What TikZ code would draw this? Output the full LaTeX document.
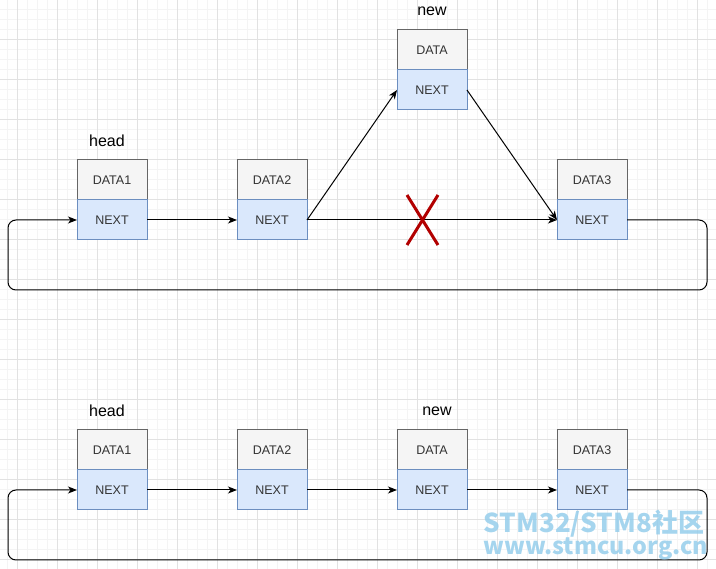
\documentclass[tikz,border=0pt]{standalone}
\usepackage{fontspec}
\setmainfont{Liberation Sans}
\newfontfamily\markfont{Noto Sans CJK SC}
\usetikzlibrary{
    arrows.meta,
    positioning
}

\definecolor{gridminor}{HTML}{F4F4F4}
\definecolor{gridmajor}{HTML}{E2E2E2}
\definecolor{datafill}{HTML}{F5F5F5}
\definecolor{datadraw}{HTML}{666666}
\definecolor{nextfill}{HTML}{DAE8FC}
\definecolor{nextdraw}{HTML}{6C8EBF}
\definecolor{celltext}{HTML}{333333}
\definecolor{crossred}{HTML}{B20000}
\definecolor{markblue}{HTML}{96CEEC}

\tikzset{
    datacell/.style={draw=datadraw, fill=datafill, text=celltext, line width=1pt,
        minimum width=70pt, minimum height=40pt, inner sep=0pt, outer sep=0pt,
        font=\fontsize{12.5}{14}\selectfont},
    nextcell/.style={datacell, draw=nextdraw, fill=nextfill},
    tag/.style={font=\fontsize{16}{19}\selectfont},
    link/.style={-{Stealth[length=9pt, width=7pt, inset=2.5pt]}, line width=1pt},
    watermark/.style={text=markblue, opacity=0.85, inner sep=0pt,
        font=\markfont\bfseries}
}

\begin{document}
\begin{tikzpicture}[x=1pt, y=-1pt]
                        \useasboundingbox (0,0) rectangle (716,569);
                        \fill[white] (0,0) rectangle (716,569);
                        % background grid
                        \foreach \x in {7,17,...,716}
                            \draw[gridminor, line width=1pt] (\x,0) -- (\x,569);
                        \foreach \y in {0,10,...,569}
                            \draw[gridminor, line width=1pt] (0,\y) -- (716,\y);
                        \foreach \x in {17,57,...,716}
                            \draw[gridmajor, line width=1pt] (\x,0) -- (\x,569);
                        \foreach \y in {0,40,...,569}
                            \draw[gridmajor, line width=1pt] (0,\y) -- (716,\y);

                        % before insertion
                        \node[tag] (head1) at (107, 141) {head};
                        \node[tag] (new1) at (432, 11) {new};
                        \node[datacell] (d1) at (112, 180) {DATA1};
                        \node[nextcell, below=0pt of d1] (n1) {NEXT};
                        \node[datacell] (d2) at (272, 180) {DATA2};
                        \node[nextcell, below=0pt of d2] (n2) {NEXT};
                        \node[datacell] (dn) at (432, 50) {DATA};
                        \node[nextcell, below=0pt of dn] (nn) {NEXT};
                        \node[datacell] (d3) at (592, 180) {DATA3};
                        \node[nextcell, below=0pt of d3] (n3) {NEXT};
                        \coordinate (loopR1) at (707, 290);
                        \coordinate (loopL1) at (8, 220);

                        \draw[link] (n1) -- (n2);
                        \draw[link] (n2.east) -- (n3.west);
                        \draw[link] (n2.east) -- (nn.west);
                        \draw[link] (nn.east) -- (n3.west);
                        \draw[link, rounded corners=8pt] (n3.east) -| (loopR1) -| (loopL1) -- (n1.west);
                        \draw[crossred, line width=3pt] (407, 195) -- (438, 245) (438, 195) -- (407, 245);

                        % after insertion
                        \node[tag] (head2) at (107, 411) {head};
                        \node[tag] (new2) at (437, 411) {new};
                        \node[datacell] (e1) at (112, 450) {DATA1};
                        \node[nextcell, below=0pt of e1] (m1) {NEXT};
                        \node[datacell] (e2) at (272, 450) {DATA2};
                        \node[nextcell, below=0pt of e2] (m2) {NEXT};
                        \node[datacell] (en) at (432, 450) {DATA};
                        \node[nextcell, below=0pt of en] (mn) {NEXT};
                        \node[datacell] (e3) at (592, 450) {DATA3};
                        \node[nextcell, below=0pt of e3] (m3) {NEXT};
                        \coordinate (loopR2) at (707, 560);
                        \coordinate (loopL2) at (8, 490);

                        \draw[link] (m1) -- (m2);
                        \draw[link] (m2) -- (mn);
                        \draw[link] (mn) -- (m3);
                        \draw[link, rounded corners=8pt] (m3.east) -| (loopR2) -| (loopL2) -- (m1.west);

                        \node[watermark, anchor=base, font=\markfont\bfseries\fontsize{26}{27}\selectfont] (mark1) at (594, 533) {STM32/STM8社区};
                        \node[watermark, anchor=base, font=\markfont\bfseries\fontsize{23.3}{24}\selectfont] (mark2) at (596, 555) {www.stmcu.org.cn};
                    \end{tikzpicture}
\end{document}
